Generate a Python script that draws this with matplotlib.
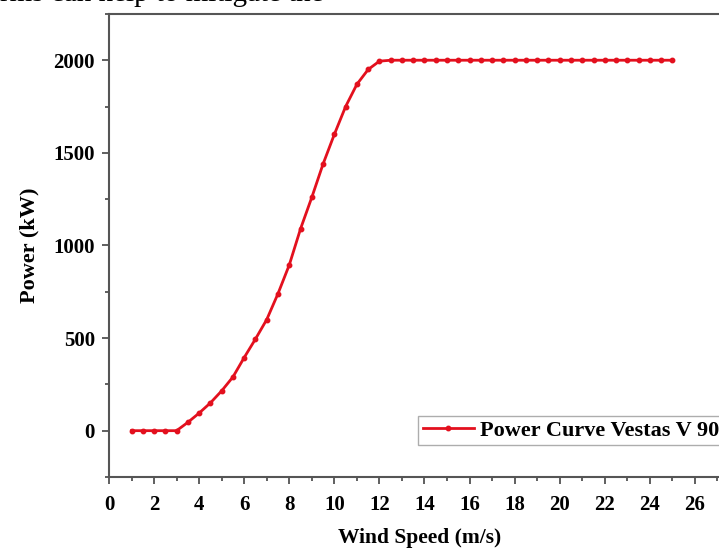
import matplotlib
matplotlib.use("Agg")
import matplotlib.pyplot as plt
from matplotlib.ticker import MultipleLocator

plt.rcParams['font.family'] = ['Liberation Serif', 'DejaVu Serif']

# Vestas V90 power curve
wind_speed = [1, 1.5, 2, 2.5, 3, 3.5, 4, 4.5, 5, 5.5, 6, 6.5, 7, 7.5, 8, 8.5,
              9, 9.5, 10, 10.5, 11, 11.5, 12, 12.5, 13, 13.5, 14, 14.5, 15,
              15.5, 16, 16.5, 17, 17.5, 18, 18.5, 19, 19.5, 20, 20.5, 21,
              21.5, 22, 22.5, 23, 23.5, 24, 24.5, 25]
power = [0, 0, 0, 0, 0, 45, 95, 150, 215, 290, 395, 495, 600, 740, 895, 1090,
         1260, 1440, 1600, 1750, 1870, 1950, 1995, 2000, 2000, 2000, 2000,
         2000, 2000, 2000, 2000, 2000, 2000, 2000, 2000, 2000, 2000, 2000,
         2000, 2000, 2000, 2000, 2000, 2000, 2000, 2000, 2000, 2000, 2000]

xticks = list(range(0, 27, 2))
yticks = [0, 500, 1000, 1500, 2000]

fig = plt.figure(figsize=(7.19, 5.48), dpi=100)
ax = fig.add_axes([0.1516, 0.1296, 0.8776, 0.845])

red = '#e3101e'
ax.plot(wind_speed, power, color=red, lw=2, marker='o', ms=3.2,
        label='Power Curve Vestas V 90')

ax.set_xlim(0, 28)
ax.set_ylim(-250, 2250)
ax.set_xticks(xticks)
ax.set_yticks(yticks)
ax.xaxis.set_minor_locator(MultipleLocator(1))
ax.yaxis.set_minor_locator(MultipleLocator(250))

for s in ax.spines.values():
    s.set_color('#555555')
    s.set_linewidth(1.5)
ax.tick_params(which='major', direction='out', length=5, width=1.2,
               color='#444444', labelsize=15, pad=5)
ax.tick_params(which='minor', direction='out', length=3, width=1.2,
               color='#444444')
ax.tick_params(axis='x', which='major', pad=8)
for lab in ax.get_xticklabels() + ax.get_yticklabels():
    lab.set_fontweight('bold')

ax.set_ylabel('Power (kW)', fontsize=16, fontweight='bold', labelpad=10)
fig.text(420 / 719, 1 - 538 / 548, 'Wind Speed (m/s)', fontsize=15.5,
         fontweight='bold', ha='center', va='center')

leg = ax.legend(loc='lower left', bbox_to_anchor=(0.49, 0.069),
                borderaxespad=0, fancybox=False, handlelength=2.3,
                prop={'weight': 'bold', 'size': 16}, borderpad=0.2,
                handletextpad=0.3)
leg.get_frame().set_edgecolor('#999999')
leg.get_frame().set_linewidth(1.0)

# fragment of the surrounding page text, cut off at the top
fig.text(0.0, 1 - 7 / 548, 'rms can help to mitigate the', fontsize=21,
         ha='left', va='bottom')

fig.savefig('out.png', dpi=100)
